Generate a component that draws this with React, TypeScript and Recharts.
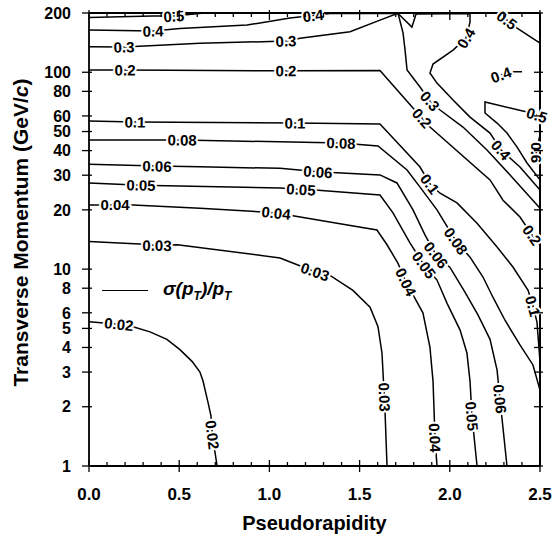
import React from 'react';
import { LineChart, Line, XAxis, YAxis, Legend, ReferenceLine } from 'recharts';

type Pt = [number, number]; // [pseudorapidity, pT in GeV/c]

const etaTicks = [0, 0.1, 0.2, 0.3, 0.4, 0.5, 0.6, 0.7, 0.8, 0.9, 1, 1.1, 1.2, 1.3, 1.4, 1.5, 1.6, 1.7, 1.8, 1.9, 2, 2.1, 2.2, 2.3, 2.4, 2.5];
const ptTicks = [1, 2, 3, 4, 5, 6, 8, 10, 20, 30, 40, 50, 60, 80, 100, 200];

// contour vertices
const level002: Pt[] = [[0, 5.4], [0.166, 5.25], [0.244, 5.1], [0.338, 4.8], [0.432, 4.4], [0.504, 3.9], [0.571, 3.4], [0.615, 3.0], [0.632, 2.7], [0.66, 2.1], [0.676, 1.8], [0.684, 1.44], [0.71, 1]];
const level003: Pt[] = [[0, 13.8], [0.28, 13.4], [0.377, 13.2], [0.49, 13.3], [1.059, 11.4], [1.253, 9.7], [1.336, 9.3], [1.463, 7.8], [1.558, 6.4], [1.602, 5.1], [1.624, 3.75], [1.632, 2.73], [1.638, 2.24], [1.652, 1]];
const level004: Pt[] = [[0, 21.2], [0.144, 21.2], [0.244, 21.2], [0.615, 20.4], [0.965, 19.5], [1.037, 19.3], [1.114, 18.8], [1.375, 17.1], [1.596, 15.8], [1.652, 13.3], [1.713, 10.7], [1.757, 8.6], [1.807, 7.1], [1.851, 6.0], [1.89, 4.0], [1.907, 2.7], [1.918, 1.39], [1.929, 1]];
const level005: Pt[] = [[0, 27.4], [0.288, 26.7], [1.059, 25.8], [1.175, 25.4], [1.253, 25.2], [1.613, 23.8], [1.685, 19.3], [1.779, 13.6], [1.857, 10.5], [1.929, 8.8], [1.985, 6.7], [2.057, 4.9], [2.095, 3.75], [2.112, 2.7], [2.123, 1.79], [2.151, 1]];
const level006: Pt[] = [[0, 34.1], [0.377, 33.4], [0.615, 33.1], [1.059, 32.5], [1.269, 31.2], [1.613, 30.1], [1.707, 27.4], [1.796, 20.0], [1.863, 14.9], [1.924, 11.8], [2.001, 10.2], [2.084, 7.65], [2.156, 5.85], [2.223, 4.4], [2.262, 3.07], [2.278, 2.19], [2.317, 1]];
const level008: Pt[] = [[0, 45.3], [0.516, 45.3], [1.397, 43.7], [1.602, 42.2], [1.763, 31.9], [1.835, 26.1], [1.929, 20.0], [2.034, 13.9], [2.112, 11.5], [2.184, 9.12], [2.239, 7.2], [2.306, 5.5], [2.389, 4.12], [2.461, 3.26], [2.5, 2.43]];
const level01: Pt[] = [[0, 56.5], [0.255, 55.9], [1.142, 55.2], [1.613, 54.6], [1.835, 33.0], [1.89, 27.1], [1.946, 24.3], [2.04, 21.7], [2.151, 17.1], [2.262, 12.95], [2.35, 10.25], [2.434, 7.8], [2.461, 6.5], [2.483, 5.4], [2.5, 3.4]];
const level02: Pt[] = [[0, 102.6], [0.2, 102.6], [1.092, 101.7], [1.613, 102], [1.796, 65.8], [1.846, 58.5], [1.89, 52.7], [2.223, 28.4], [2.295, 22.4], [2.389, 18.4], [2.456, 14.9], [2.5, 13.3]];
const level03: Pt[] = [[0, 134.8], [0.194, 134.4], [0.615, 140.3], [1.092, 144.1], [1.17, 148.7], [1.447, 160.6], [1.613, 184.1], [1.713, 199.5], [1.741, 158.2], [1.752, 129.6], [1.763, 102.6], [1.835, 84.1], [1.89, 71.4], [1.946, 64.3], [2.073, 52.7], [2.206, 40.3], [2.334, 30.1], [2.5, 20.4]];
const level04: Pt[] = [[0, 163.8], [0.355, 162], [0.504, 167], [0.876, 173.7], [1.114, 188.5], [1.242, 194], [1.336, 198.7], [1.713, 198.7], [1.79, 169.7], [1.813, 197.5], [2.112, 198.7], [2.112, 179.9], [2.09, 149.2], [2.018, 129.6], [1.907, 110.1], [1.89, 99.1], [1.929, 88.1], [2.018, 72.3], [2.112, 59.2], [2.223, 49.1], [2.284, 40.3], [2.389, 33], [2.5, 25.2]];
const level04Island: Pt[] = [[2.284, 97], [2.33, 100.5], [2.4, 100.5]];
const level05Left: Pt[] = [[0, 190], [0.35, 193], [0.47, 193], [0.64, 200]];
const level05Top: Pt[] = [[2.262, 200], [2.317, 184.1], [2.373, 167.7], [2.5, 140.7]];
const level05Right: Pt[] = [[2.483, 60.6], [2.428, 62.8], [2.195, 70.6], [2.195, 62.1], [2.262, 55.2], [2.317, 49.1], [2.373, 41.7], [2.428, 34.6], [2.5, 28.4]];
const level06: Pt[] = [[2.5, 48], [2.478, 39], [2.5, 34]];

const contours = [
  { level: '0.02', pts: level002, labelAt: [1, 11] },
  { level: '0.03', pts: level003, labelAt: [2, 5, 12] },
  { level: '0.04', pts: level004, labelAt: [1, 5, 11, 16] },
  { level: '0.05', pts: level005, labelAt: [1, 3, 8, 14] },
  { level: '0.06', pts: level006, labelAt: [1, 4, 9, 15] },
  { level: '0.08', pts: level008, labelAt: [1, 2, 7] },
  { level: '0.1', pts: level01, labelAt: [1, 2, 5, 12] },
  { level: '0.2', pts: level02, labelAt: [1, 2, 5, 10] },
  { level: '0.3', pts: level03, labelAt: [1, 3, 12] },
  { level: '0.4', pts: level04, labelAt: [1, 5, 12, 20] },
  { level: '0.4', pts: level04Island, labelAt: [0] },
  { level: '0.5', pts: level05Left, labelAt: [2] },
  { level: '0.5', pts: level05Top, labelAt: [1] },
  { level: '0.5', pts: level05Right, labelAt: [0] },
  { level: '0.6', pts: level06, labelAt: [1] },
];

const FONT = '"Liberation Sans", Arial, Helvetica, sans-serif';
const axisStyle = { stroke: '#000', strokeWidth: 1.8 };

// contour value drawn on the line, turned along it
function labelDot(text: string, labelAt: number[]) {
  return (props: any) => {
    const { cx, cy, index, points } = props;
    const key = `lbl-${text}-${index}`;
    if (!labelAt.includes(index) || cx == null || cy == null) return <g key={key} />;
    let angle = 0;
    if (points && points.length > 1) {
      const a = points[Math.max(0, index - 1)];
      const b = points[Math.min(points.length - 1, index + 1)];
      angle = (Math.atan2(b.y - a.y, b.x - a.x) * 180) / Math.PI;
      if (angle > 90) angle -= 180;
      if (angle < -90) angle += 180;
    }
    return (
      <text
        key={key}
        x={cx}
        y={cy}
        transform={`rotate(${angle} ${cx} ${cy})`}
        textAnchor="middle"
        dominantBaseline="central"
        fontFamily={FONT}
        fontWeight="bold"
        fontSize={15}
        fill="#000"
        stroke="#fff"
        strokeWidth={4}
        paintOrder="stroke"
      >
        {text}
      </text>
    );
  };
}

const isMajor = (v: number) => Math.round(v * 10) % 5 === 0;

function BottomTick({ x, y, payload }: any) {
  const major = isMajor(payload.value);
  return (
    <g>
      <line x1={x} x2={x} y1={major ? y - 6 : y - 4} y2={major ? y + 6 : y} stroke="#000" strokeWidth={1.3} />
      {major && (
        <text x={x} y={y + 34} textAnchor="middle" fontFamily={FONT} fontWeight="bold" fontSize={17} fill="#000">
          {payload.value.toFixed(1)}
        </text>
      )}
    </g>
  );
}

function TopTick({ x, y, payload }: any) {
  const major = isMajor(payload.value);
  return <line x1={x} x2={x} y1={major ? y - 3 : y} y2={major ? y + 7 : y + 4} stroke="#000" strokeWidth={1.3} />;
}

function LeftTick({ x, y, payload }: any) {
  return (
    <g>
      <line x1={x - 7} x2={x + 3} y1={y} y2={y} stroke="#000" strokeWidth={1.3} />
      <text x={x - 18} y={y} dy="0.36em" textAnchor="end" fontFamily={FONT} fontWeight="bold" fontSize={16} fill="#000">
        {payload.value}
      </text>
    </g>
  );
}

function RightTick({ x, y }: any) {
  return <line x1={x - 6} x2={x + 3} y1={y} y2={y} stroke="#000" strokeWidth={1.3} />;
}

function XTitle(props: any) {
  const vb = props.viewBox ?? { x: 89, y: 466, width: 451, height: 78 };
  return (
    <text x={vb.x + vb.width / 2} y={vb.y + 64} textAnchor="middle" fontFamily={FONT} fontWeight="bold" fontSize={20} fill="#000">
      Pseudorapidity
    </text>
  );
}

function YTitle(props: any) {
  const vb = props.viewBox ?? { x: 0, y: 13, width: 89, height: 453 };
  const cx = vb.x + 20;
  const cy = vb.y + vb.height / 2 - 7;
  return (
    <text
      x={cx}
      y={cy}
      transform={`rotate(-90 ${cx} ${cy})`}
      textAnchor="middle"
      dominantBaseline="central"
      fontFamily={FONT}
      fontWeight="bold"
      fontSize={21}
      fill="#000"
    >
      Transverse Momentum (GeV/<tspan fontStyle="italic">c</tspan>)
    </text>
  );
}

function LegendBox() {
  return (
    <div style={{ display: 'flex', alignItems: 'center', height: 24, fontFamily: FONT }}>
      <span style={{ display: 'inline-block', width: 46, borderTop: '1.5px solid #000' }} />
      <span style={{ marginLeft: 15, fontStyle: 'italic', fontWeight: 'bold', fontSize: 19, color: '#000', whiteSpace: 'nowrap' }}>
        σ(p<sub style={{ fontSize: 12 }}>T</sub>)/p<sub style={{ fontSize: 12 }}>T</sub>
      </span>
    </div>
  );
}

export default function App() {
  return (
    <div>
      <style>{'html, body { margin: 0; padding: 0; overflow: hidden; }'}</style>
      <LineChart width={554} height={544} margin={{ top: 0, right: 0, bottom: 0, left: 0 }} style={{ fontFamily: FONT }}>
        <XAxis
          xAxisId={0}
          dataKey="eta"
          type="number"
          domain={[0, 2.5]}
          ticks={etaTicks}
          interval={0}
          height={78}
          tickSize={0}
          tickMargin={0}
          tickLine={false}
          axisLine={axisStyle}
          tick={BottomTick}
          label={XTitle}
        />
        <XAxis
          xAxisId="top"
          orientation="top"
          dataKey="eta"
          type="number"
          domain={[0, 2.5]}
          ticks={etaTicks}
          interval={0}
          allowDataOverflow
          height={13}
          tickSize={0}
          tickMargin={0}
          tickLine={false}
          axisLine={axisStyle}
          tick={TopTick}
        />
        <YAxis
          yAxisId={0}
          type="number"
          scale="log"
          domain={[1, 200]}
          ticks={ptTicks}
          interval={0}
          width={89}
          tickSize={0}
          tickMargin={0}
          tickLine={false}
          axisLine={axisStyle}
          tick={LeftTick}
          label={YTitle}
        />
        <YAxis
          yAxisId="right"
          orientation="right"
          type="number"
          scale="log"
          domain={[1, 200]}
          ticks={ptTicks}
          interval={0}
          allowDataOverflow
          width={14}
          tickSize={0}
          tickMargin={0}
          tickLine={false}
          axisLine={axisStyle}
          tick={RightTick}
        />
        {/* right edge of the frame, in case the mirror axis line is not drawn */}
        <ReferenceLine xAxisId={0} yAxisId={0} x={2.5} stroke="#000" strokeWidth={1.8} />
        {contours.map((c, i) => (
          <Line
            key={`c-${i}`}
            xAxisId={0}
            yAxisId={0}
            data={c.pts.map(([eta, pT]) => ({ eta, pT }))}
            dataKey="pT"
            type="linear"
            stroke="#000"
            strokeWidth={1.5}
            dot={labelDot(c.level, c.labelAt)}
            activeDot={false}
            isAnimationActive={false}
          />
        ))}
        {/* unseen copy so the top and right frame axes have a series */}
        <Line
          xAxisId="top"
          yAxisId="right"
          data={level02.map(([eta, pT]) => ({ eta, pT }))}
          dataKey="pT"
          stroke="none"
          dot={false}
          activeDot={false}
          legendType="none"
          isAnimationActive={false}
        />
        <Legend
          layout="horizontal"
          verticalAlign="middle"
          align="center"
          wrapperStyle={{ left: 102, top: 278, width: 'auto', height: 'auto' }}
          content={LegendBox}
        />
      </LineChart>
    </div>
  );
}
